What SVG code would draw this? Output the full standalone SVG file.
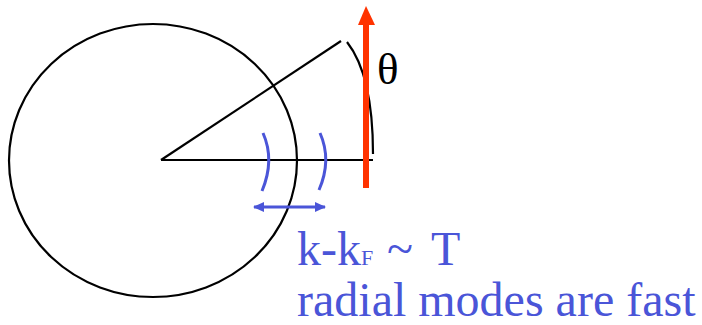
<svg xmlns="http://www.w3.org/2000/svg" width="702" height="325" viewBox="0 0 702 325">
<style>
.blk{fill:none;stroke:#000;stroke-width:2.2}
.blu{fill:none;stroke:#4A55D8;stroke-width:3}
.txt{font-family:"Liberation Serif",serif;fill:#4A55D8}
</style>
<defs>
<marker id="ah" markerWidth="11" markerHeight="10" refX="10" refY="5" orient="auto-start-reverse" markerUnits="userSpaceOnUse">
<path d="M0,0 L11,5 L0,10 Z" fill="#4A55D8"/>
</marker>
</defs>
<rect width="702" height="325" fill="#fff"/>
<g id="circle"><ellipse class="blk" cx="153" cy="160.5" rx="144" ry="136.5"/></g>
<g id="connectors">
<line class="blk" x1="161" y1="160" x2="373" y2="160"/>
<line class="blk" x1="161" y1="160" x2="341" y2="41"/>
<path class="blk" d="M347,42 Q373,75 373,154"/>
<path class="blu" d="M263,133 Q275,160 262,191"/>
<path class="blu" d="M320,133 Q332,160 319,190"/>
<line class="blu" x1="254" y1="207" x2="325" y2="207" marker-start="url(#ah)" marker-end="url(#ah)"/>
</g>
<g id="arrow">
<rect x="363" y="24" width="6" height="164" fill="#FF3300"/>
<path d="M358,25 L366,6 L375,25 Z" fill="#FF3300"/>
</g>
<g id="theta"><text x="377" y="84" font-family="Liberation Serif,serif" font-size="45" fill="#000">θ</text></g>
<g id="label">
<text class="txt" x="297" y="265" font-size="48">k-k<tspan x="361" font-size="22">F</tspan><tspan x="387">~</tspan><tspan x="431">T</tspan></text>
<text class="txt" x="297" y="316" font-size="48">radial modes are fast</text>
</g>
</svg>
